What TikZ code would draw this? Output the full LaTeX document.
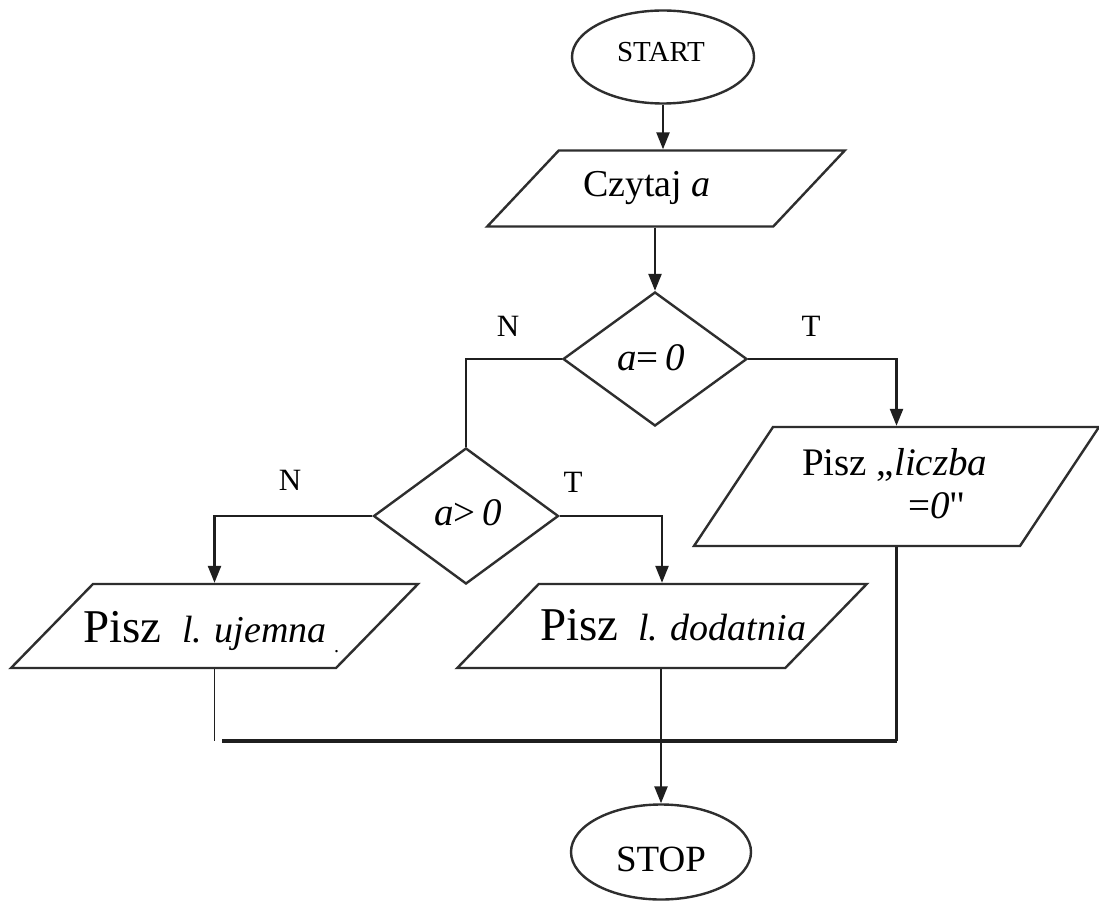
\documentclass[tikz,border=0pt]{standalone}
\usepackage{fontspec}
\setmainfont{Liberation Serif}
\newfontfamily\plainquote{Liberation Serif}
\usetikzlibrary{shapes.geometric,arrows.meta}
\newcommand\setfs[1]{\fontsize{#1pt}{#1pt}\selectfont}
\definecolor{ink}{HTML}{2E2E2E}
\begin{document}
\begin{tikzpicture}[x=1pt,y=-1pt,
  shape line/.style={draw=ink, line width=2.4pt},
  terminal/.style={shape line, ellipse, inner sep=0pt},
  decision/.style={shape line, diamond, inner sep=0pt, minimum width=184pt, minimum height=134pt},
  io/.style={shape line, rectangle, inner sep=0pt, transform shape},
  txt/.style={inner sep=0pt, anchor=base west, text=black},
  flow/.style={draw=black!88, line width=2.4pt},
  arr/.style={flow, -{Triangle[length=17pt,width=13pt]}},
  branch/.style={inner sep=0pt, anchor=base, font=\setfs{31}}]

\fill[white] (0,0) rectangle (1099,901);
\useasboundingbox (0,0) rectangle (1099,901);

% terminals
\node[terminal, minimum width=182pt, minimum height=93pt] (start) at (663,57) {};
\node[txt, anchor=base, font=\setfs{29}] (starttext) at (661,62) {START};
\node[terminal, minimum width=180pt, minimum height=95pt] (stop) at (661,852) {};
\node[txt, anchor=base, font=\setfs{37}] (stoptext) at (661,871) {STOP};

% input
\coordinate (czc) at (666,188.5);
\node[io, minimum width=286pt, minimum height=76pt, xslant=0.941] (czytaj) at (czc) {};
\node[txt, font=\setfs{38}] (czytajtext) at (583,197) {Czytaj \textit{a}};

% first decision
\node[decision] (d1) at (655,359) {};
\node[txt, font=\setfs{39}] (d1text) at (617,370) {\textit{a}=\,\textit{0}};

% output for zero
\coordinate (lzc) at (896.5,486.5);
\node[io, minimum width=326pt, minimum height=119pt, xslant=0.664] (liczba) at (lzc) {};
\node[txt, font=\setfs{39}] (lz1) at (802,475) {Pisz „\textit{liczba}};
\node[txt, font=\setfs{39}] (lz2) at (908,518) {=\textit{0}{\plainquote"}};

% second decision
\node[decision, minimum width=185pt, minimum height=136pt] (d2) at (466,516) {};
\node[txt, font=\setfs{39}] (d2text) at (434,525) {\textit{a}>\,\textit{0}};

% output for negative
\coordinate (ujc) at (214.5,626);
\node[io, minimum width=325pt, minimum height=84pt, xslant=0.976] (ujemna) at (ujc) {};
\node[txt, font=\setfs{47}] (ujp) at (83,642) {Pisz};
\node[txt, font=\setfs{38}\itshape] (uji) at (182,642) {l. ujemna};
\node[txt, font=\setfs{20}] (ujdot) at (334,652) {.};

% output for positive
\coordinate (doc) at (662,626);
\node[io, minimum width=328pt, minimum height=84pt, xslant=0.97] (dodatnia) at (doc) {};
\node[txt, font=\setfs{47}] (dop) at (540,640) {Pisz};
\node[txt, font=\setfs{38}\itshape] (doi) at (638,640) {l. dodatnia};

% branch labels
\node[branch] (n1) at (508,336) {N};
\node[branch] (t1) at (811,336) {T};
\node[branch] (n2) at (290,490) {N};
\node[branch] (t2) at (573,492) {T};

% connectors
\draw[arr] (start.south) -- (start.south |- czytaj.north);
\draw[arr] (d1.north |- czytaj.south) -- (d1.north);
\draw[flow] (d1.west) -| (d2.north);
\draw[arr] (d1.east) -| (liczba.center |- liczba.north);
\draw[arr] (d2.west) -| (ujemna.center |- ujemna.north);
\draw[arr] (d2.east) -| (dodatnia.center |- dodatnia.north);

% merging lines
\coordinate (merge) at (661,741);
\coordinate (mergeL) at (222,741);
\draw[flow, line width=1.8pt] (ujemna.center |- ujemna.south) -- (ujemna.center |- merge);
\draw[flow, line width=3.2pt] (mergeL) -- (liczba.center |- merge);
\draw[flow] (liczba.center |- liczba.south) -- (liczba.center |- merge);
\draw[flow, line width=1.8pt] (stop.north |- dodatnia.south) -- (stop.north |- merge);
\draw[arr] (stop.north |- merge) -- (stop.north);
\end{tikzpicture}
\end{document}
